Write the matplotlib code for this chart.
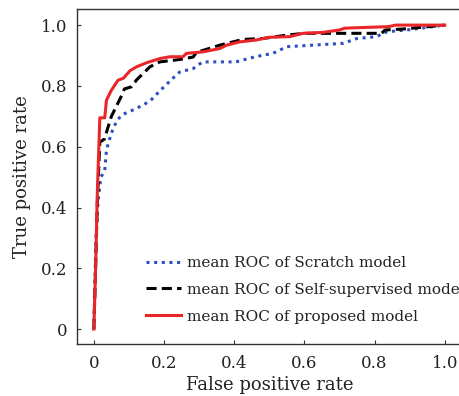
import matplotlib
matplotlib.use("Agg")
import matplotlib.pyplot as plt

# Data
scratch_fpr = [0, 0.006, 0.012, 0.02, 0.031, 0.036, 0.05, 0.065, 0.08, 0.12, 0.16, 0.19, 0.225,
               0.245, 0.283, 0.31, 0.405, 0.46, 0.51, 0.55, 0.71, 0.75, 0.805, 0.835, 0.9, 1.0]
scratch_tpr = [0, 0.30, 0.42, 0.50, 0.52, 0.59, 0.645, 0.685, 0.705, 0.725, 0.75, 0.786, 0.825,
               0.846, 0.857, 0.879, 0.879, 0.896, 0.907, 0.929, 0.94, 0.956, 0.962, 0.978, 0.985, 1.0]

self_fpr = [0, 0.005, 0.01, 0.017, 0.03, 0.05, 0.08, 0.087, 0.107, 0.122, 0.16, 0.188, 0.245,
            0.283, 0.292, 0.359, 0.425, 0.482, 0.549, 0.6, 0.82, 0.83, 0.88, 1.0]
self_tpr = [0, 0.2, 0.42, 0.615, 0.625, 0.70, 0.77, 0.79, 0.797, 0.82, 0.863, 0.879, 0.887,
            0.895, 0.91, 0.934, 0.953, 0.956, 0.967, 0.973, 0.973, 0.984, 0.987, 1.0]

prop_fpr = [0, 0.005, 0.01, 0.017, 0.031, 0.036, 0.05, 0.069, 0.084, 0.103, 0.122, 0.15, 0.188,
            0.217, 0.254, 0.264, 0.311, 0.359, 0.378, 0.416, 0.463, 0.5, 0.558, 0.596, 0.653,
            0.70, 0.715, 0.84, 0.86, 1.0]
prop_tpr = [0, 0.2, 0.45, 0.695, 0.695, 0.753, 0.786, 0.819, 0.825, 0.85, 0.863, 0.876, 0.89,
            0.896, 0.896, 0.907, 0.912, 0.923, 0.934, 0.945, 0.951, 0.96, 0.962, 0.973, 0.976,
            0.984, 0.99, 0.995, 1.0, 1.0]

labels = ["mean ROC of Scratch model",
          "mean ROC of Self-supervised model",
          "mean ROC of proposed model"]
xticks = [0, 0.2, 0.4, 0.6, 0.8, 1.0]
xticklabels = ["0", "0.2", "0.4", "0.6", "0.8", "1.0"]
yticks = [0, 0.2, 0.4, 0.6, 0.8, 1.0]
yticklabels = ["0", "0.2", "0.4", "0.6", "0.8", "1.0"]

plt.rcParams['font.family'] = ['DejaVu Serif']

W, H = 459, 396
fig = plt.figure(figsize=(W / 100, H / 100), dpi=100)
ax = fig.add_axes([77 / W, (H - 344) / H, 386 / W, 335 / H])

lw = 2.2
ax.plot(scratch_fpr, scratch_tpr, color="#2c50c0", lw=lw, linestyle=(0, (1, 1.5)),
        label=labels[0])
ax.plot(self_fpr, self_tpr, color="black", lw=lw, linestyle=(0, (3.3, 1.7)), label=labels[1])
ax.plot(prop_fpr, prop_tpr, color="#ea2629", lw=lw, linestyle="-", label=labels[2])

ax.set_xlim(-0.048, 1.052)
ax.set_ylim(-0.049, 1.053)
ax.set_xticks(xticks)
ax.set_xticklabels(xticklabels)
ax.set_yticks(yticks)
ax.set_yticklabels(yticklabels)
ax.tick_params(direction="in", length=3, width=0.8, labelsize=12, color="#333333",
               labelcolor="#222222")
ax.tick_params(axis="x", pad=8)
ax.tick_params(axis="y", pad=7)
for s in ax.spines.values():
    s.set_linewidth(1.0)
    s.set_color("#333333")

ax.set_xlabel("False positive rate", fontsize=13, color="#222222", labelpad=3)
ax.set_ylabel("True positive rate", fontsize=13, color="#222222", labelpad=7)

leg = ax.legend(loc="upper left", bbox_to_anchor=(146 / W, (H - 256) / H),
                bbox_transform=fig.transFigure, frameon=False, fontsize=11,
                handlelength=2.3, handletextpad=0.4, labelspacing=0.84, borderpad=0,
                borderaxespad=0)
for t in leg.get_texts():
    t.set_color("#222222")

fig.savefig("out.png", dpi=100)
